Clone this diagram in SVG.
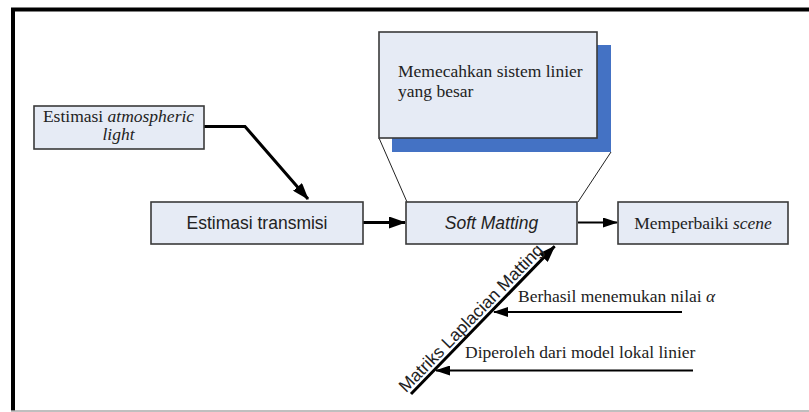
<svg xmlns="http://www.w3.org/2000/svg" width="809" height="412" viewBox="0 0 809 412">
<style>
.box{fill:#e6ebf5;stroke:#3a3a3a;stroke-width:1.6}
.serif{font-family:"Liberation Serif","Times New Roman",serif;font-size:17.5px;fill:#222}
.sans{font-family:"Liberation Sans",Arial,sans-serif;font-size:17.5px;fill:#222}
.thick{stroke:#000;stroke-width:3;fill:none}
.thin{stroke:#000;stroke-width:2;fill:none}
.hair{stroke:#222;stroke-width:1;fill:none}
</style>
<defs>
<marker id="ah" viewBox="0 0 17 12" refX="16" refY="6" markerWidth="17" markerHeight="12" markerUnits="userSpaceOnUse" orient="auto">
<path d="M0,0 L17,6 L0,12 Z" fill="#000"/>
</marker>
<marker id="ahs" viewBox="0 0 15 10" refX="14" refY="5" markerWidth="15" markerHeight="10" markerUnits="userSpaceOnUse" orient="auto">
<path d="M0,0 L15,5 L0,10 Z" fill="#000"/>
</marker>
</defs>
<rect width="809" height="412" fill="#fff"/>
<g id="frame">
<line x1="11" y1="9.5" x2="809" y2="9.5" stroke="#000" stroke-width="4"/>
<line x1="13" y1="8" x2="13" y2="411" stroke="#000" stroke-width="4"/>
<line x1="11" y1="411" x2="809" y2="411" stroke="#aaa" stroke-width="1.5"/>
</g>
<g id="connectors">
<polyline class="thick" points="204,126.5 245,126.5 308,199" marker-end="url(#ah)"/>
<line class="thick" x1="363" y1="222.5" x2="405" y2="222.5" marker-end="url(#ah)"/>
<line class="thin" x1="578" y1="222.5" x2="617" y2="222.5" marker-end="url(#ahs)"/>
<line class="hair" x1="379" y1="138" x2="407" y2="202"/>
<line class="hair" x1="611" y1="152" x2="578" y2="202"/>
<g transform="translate(411,394) rotate(-45.8)">
<line class="thick" x1="0" y1="0" x2="206" y2="0" marker-end="url(#ah)"/>
<text class="sans" x="-3" y="-4">Matriks Laplacian Matting</text>
</g>
<line class="thin" x1="682" y1="312" x2="494" y2="312" marker-end="url(#ahs)"/>
<line class="thin" x1="693" y1="370.5" x2="436" y2="370.5" marker-end="url(#ahs)"/>
<text class="serif" x="518" y="302">Berhasil menemukan nilai <tspan font-style="italic">α</tspan></text>
<text class="serif" x="465" y="358">Diperoleh dari model lokal linier</text>
</g>
<g id="atm">
<rect class="box" x="34" y="106" width="170" height="43"/>
<text class="serif" x="118.5" y="121.5" text-anchor="middle">Estimasi <tspan font-style="italic">atmospheric</tspan></text>
<text class="serif" x="118.5" y="140" text-anchor="middle" font-style="italic">light</text>
</g>
<g id="transmisi">
<rect class="box" x="151" y="202" width="212" height="42"/>
<text class="sans" x="257" y="229" text-anchor="middle">Estimasi transmisi</text>
</g>
<g id="softmatting">
<rect class="box" x="406" y="202" width="171" height="42"/>
<text class="sans" x="491.5" y="229" text-anchor="middle" font-style="italic">Soft Matting</text>
</g>
<g id="memperbaiki">
<rect class="box" x="618" y="202" width="170" height="42"/>
<text class="serif" x="703" y="229" text-anchor="middle">Memperbaiki <tspan font-style="italic">scene</tspan></text>
</g>
<g id="linier">
<rect x="392" y="45" width="219" height="107" fill="#4472c4"/>
<rect class="box" x="379" y="32" width="218" height="106"/>
<text class="serif" x="398" y="76.5">Memecahkan sistem linier</text>
<text class="serif" x="398" y="96.5">yang besar</text>
</g>
</svg>
